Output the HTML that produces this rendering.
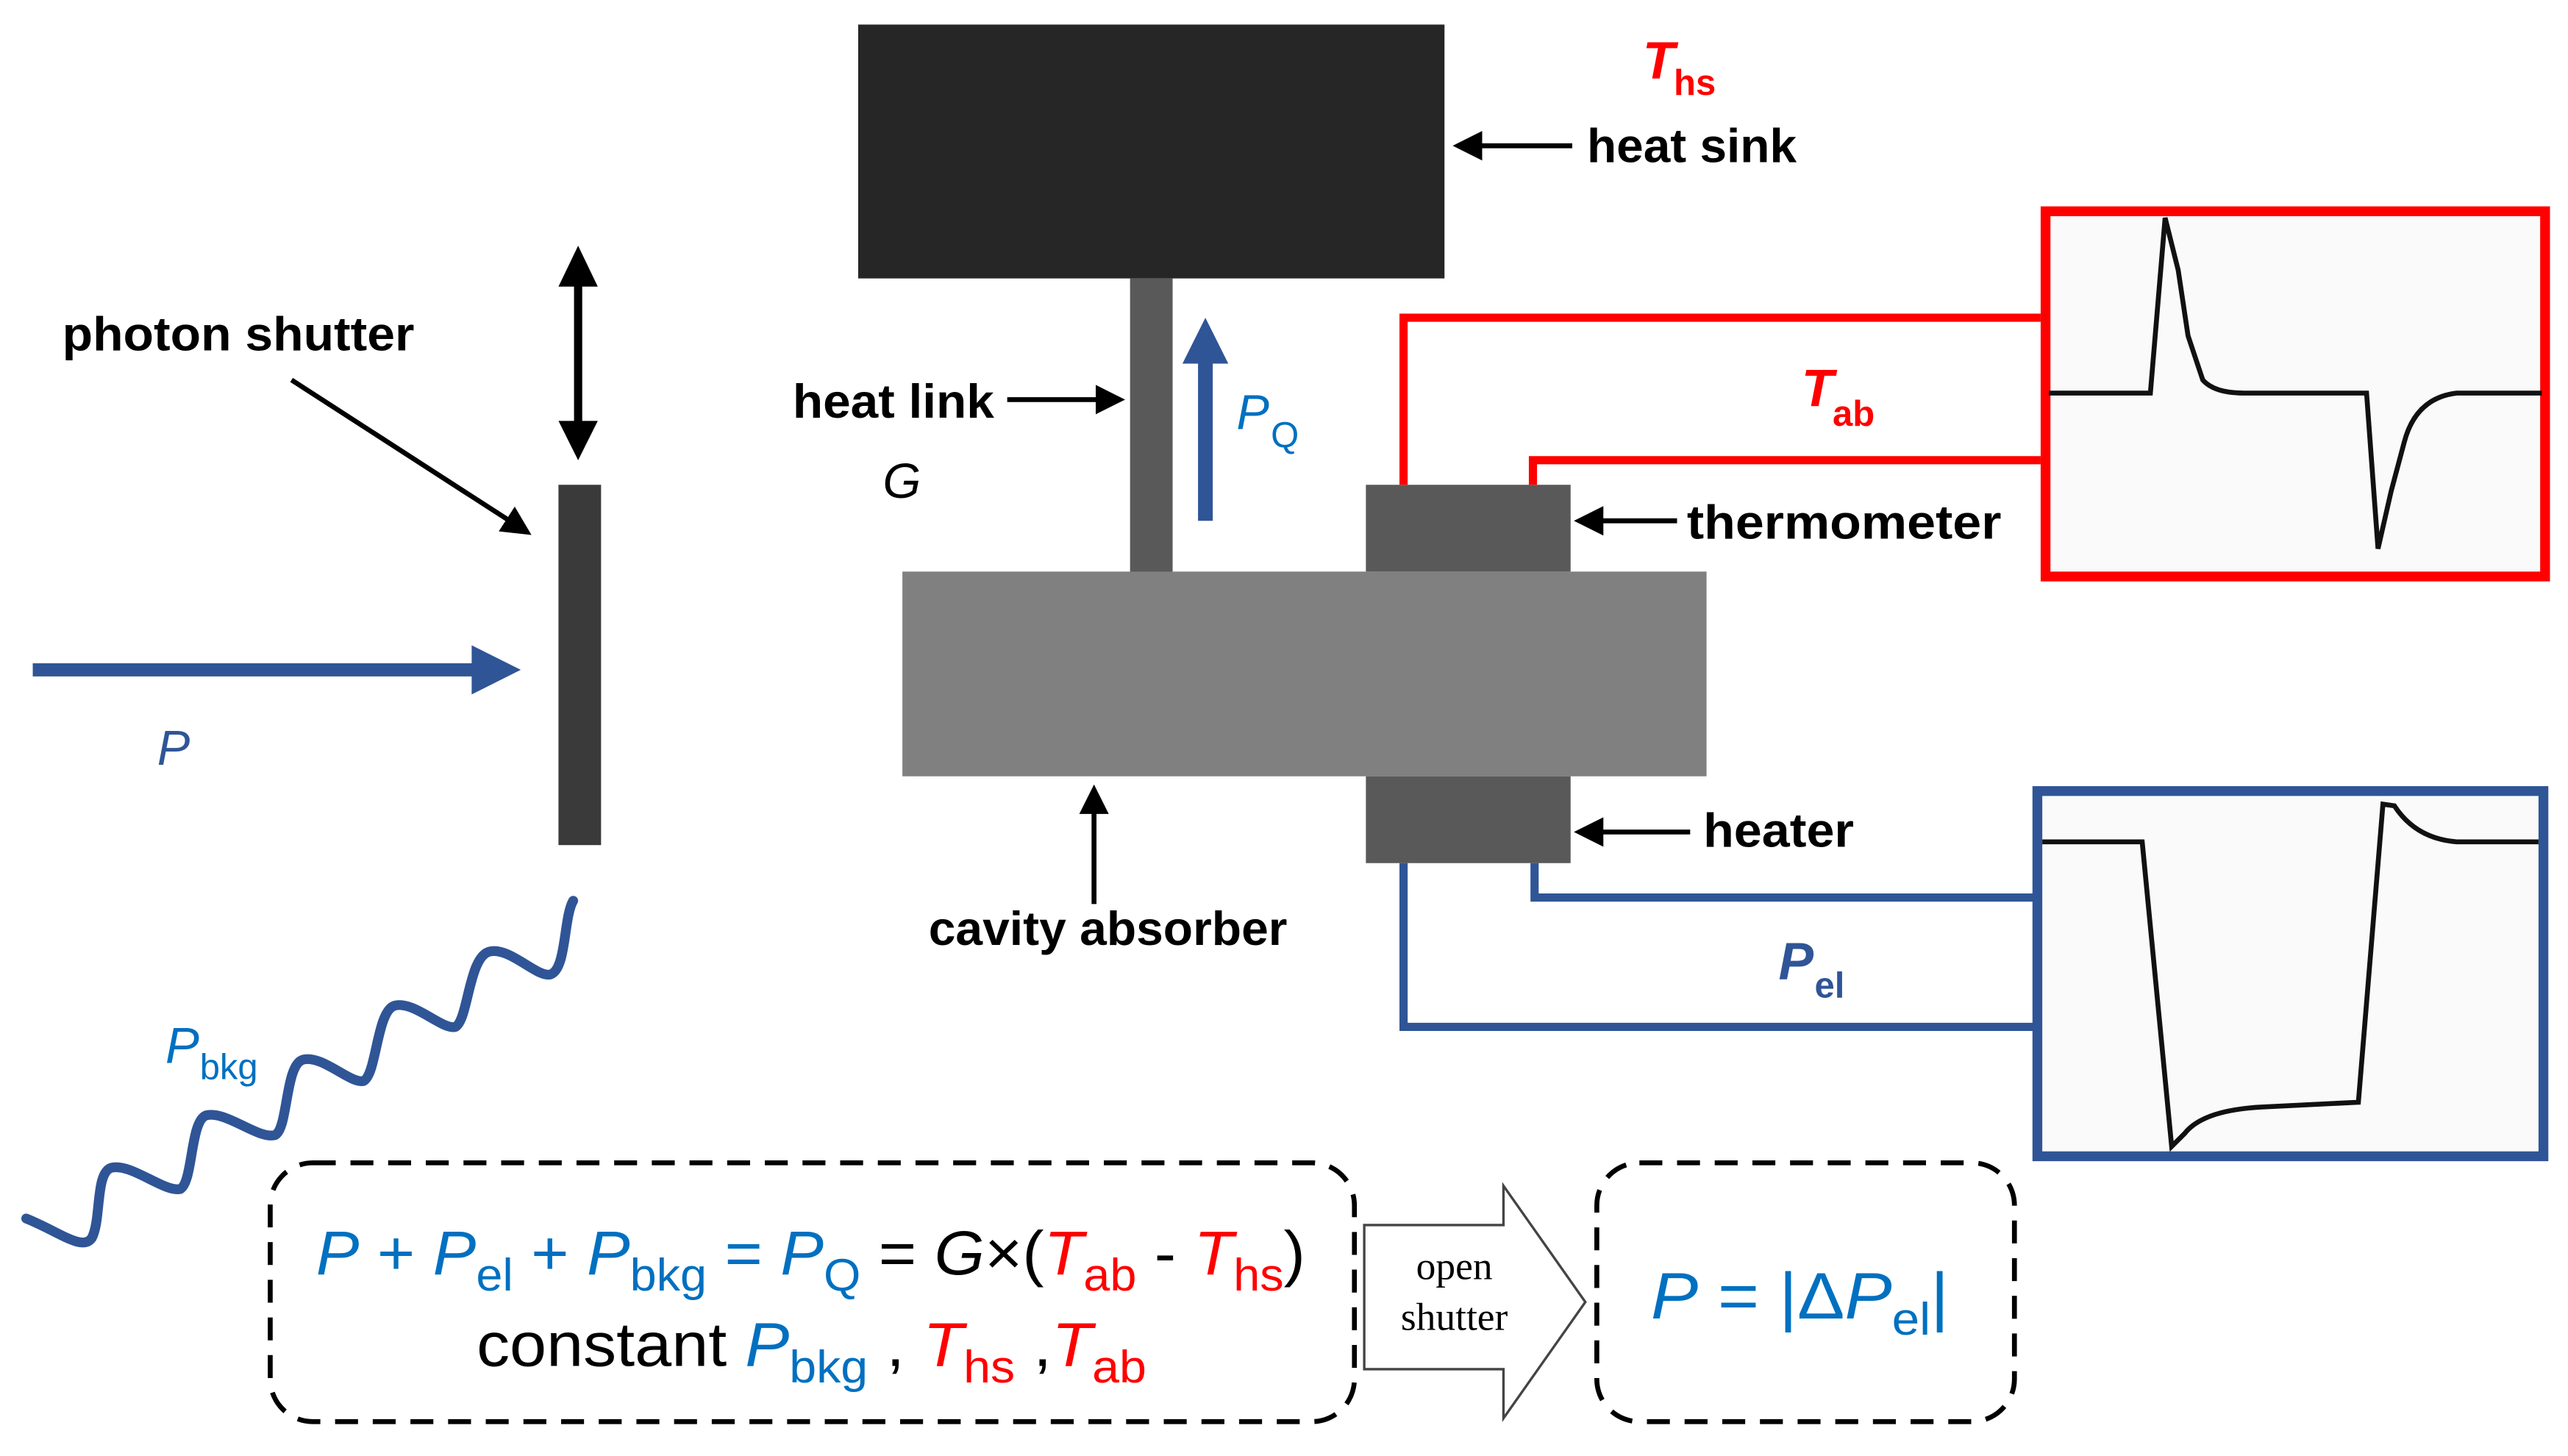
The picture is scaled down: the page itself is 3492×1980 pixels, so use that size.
<!DOCTYPE html>
<html><head><meta charset="utf-8"><style>
html,body{margin:0;padding:0;background:#fff;}
svg{display:block}
text{font-family:"Liberation Sans",sans-serif;}
.lb{font-weight:bold;font-size:29px;fill:#000;}
.it{font-style:italic;}
</style></head><body>
<svg width="3492" height="1980" viewBox="0 0 1568 889" preserveAspectRatio="none" xmlns="http://www.w3.org/2000/svg">
<defs>
<marker id="ak" markerWidth="6" markerHeight="6" refX="5" refY="3" orient="auto" markerUnits="strokeWidth"><path d="M0,0 L6,3 L0,6 z" fill="#000"/></marker>
</defs>
<rect width="1568" height="889" fill="#fff"/>
<rect x="524" y="15" width="358" height="155" fill="#262626"/>
<rect x="690" y="170" width="26" height="180" fill="#595959"/>
<rect x="551" y="349" width="491" height="125" fill="#808080"/>
<rect x="834" y="296" width="125" height="53" fill="#595959"/>
<rect x="834" y="474" width="125" height="53" fill="#595959"/>
<rect x="341" y="296" width="26" height="220" fill="#3a3a3a"/>
<line x1="353" y1="170" x2="353" y2="262" stroke="#000" stroke-width="5"/>
<path d="M341,175 L353,150 L365,175 z" fill="#000"/>
<path d="M341,257 L353,281 L365,257 z" fill="#000"/>
<text x="38" y="214" class="lb" textLength="215" lengthAdjust="spacingAndGlyphs">photon shutter</text>
<line x1="178" y1="232" x2="322" y2="325" stroke="#000" stroke-width="3" marker-end="url(#ak)"/>
<line x1="20" y1="409" x2="292" y2="409" stroke="#2F5597" stroke-width="8"/>
<path d="M288,394 L318,409 L288,424 z" fill="#2F5597"/>
<text x="96" y="467" class="it" font-size="30" fill="#2F5597">P</text>
<path d="M16,744 C36,752 50,764 56,756 C62,745 58,716 68,713 C80,710 100,728 110,726 C118,722 116,684 126,681 C138,678 158,696 168,693 C176,689 174,650 185,647 C197,644 214,662 222,660 C230,656 230,617 241,614 C253,611 270,629 278,627 C286,623 286,584 299,581 C311,578 328,597 336,595 C346,592 344,560 350,550" fill="none" stroke="#2F5597" stroke-width="6" stroke-linecap="round"/>
<text x="101" y="649" class="it" font-size="31" fill="#0070C0">P</text><text x="122" y="659" font-size="22" fill="#0070C0">bkg</text>
<line x1="736" y1="318" x2="736" y2="218" stroke="#2F5597" stroke-width="9"/>
<path d="M722,222 L736,194 L750,222 z" fill="#2F5597"/>
<text x="755" y="262" class="it" font-size="30" fill="#0070C0">P</text><text x="776" y="273" font-size="22" fill="#0070C0">Q</text>
<text x="484" y="255" class="lb" textLength="123" lengthAdjust="spacingAndGlyphs">heat link</text>
<line x1="615" y1="244" x2="684" y2="244" stroke="#000" stroke-width="3" marker-end="url(#ak)"/>
<text x="539" y="304" class="it" font-size="30" fill="#000">G</text>
<text x="1003" y="48" class="it" font-weight="bold" font-size="32" fill="#FF0000">T</text><text x="1022" y="58" font-weight="bold" font-size="22" fill="#FF0000">hs</text>
<text x="969" y="99" class="lb" textLength="128" lengthAdjust="spacingAndGlyphs">heat sink</text>
<line x1="960" y1="89" x2="890" y2="89" stroke="#000" stroke-width="3" marker-end="url(#ak)"/>
<text x="1030" y="329" class="lb" textLength="192" lengthAdjust="spacingAndGlyphs">thermometer</text>
<line x1="1024" y1="318" x2="964" y2="318" stroke="#000" stroke-width="3" marker-end="url(#ak)"/>
<text x="1040" y="517" class="lb" textLength="92" lengthAdjust="spacingAndGlyphs">heater</text>
<line x1="1032" y1="508" x2="964" y2="508" stroke="#000" stroke-width="3" marker-end="url(#ak)"/>
<text x="567" y="577" class="lb" textLength="219" lengthAdjust="spacingAndGlyphs">cavity absorber</text>
<line x1="668" y1="552" x2="668" y2="482" stroke="#000" stroke-width="3" marker-end="url(#ak)"/>
<polyline points="857,296 857,194 1246,194" fill="none" stroke="#FF0000" stroke-width="5"/>
<polyline points="936,296 936,281 1246,281" fill="none" stroke="#FF0000" stroke-width="5"/>
<text x="1100" y="248" class="it" font-weight="bold" font-size="32" fill="#FF0000">T</text><text x="1119" y="260" font-weight="bold" font-size="22" fill="#FF0000">ab</text>
<polyline points="857,527 857,627 1242,627" fill="none" stroke="#2F5597" stroke-width="5"/>
<polyline points="937,527 937,548 1242,548" fill="none" stroke="#2F5597" stroke-width="5"/>
<text x="1086" y="598" class="it" font-weight="bold" font-size="32" fill="#2F5597">P</text><text x="1108" y="609" font-weight="bold" font-size="22" fill="#2F5597">el</text>
<rect x="1249" y="129" width="305" height="223" fill="#fafafa" stroke="#FF0000" stroke-width="6"/>
<path d="M1251,240 L1313,240 L1322,133 L1330,165 L1336,205 L1345,232 Q1352,240 1370,240 L1445,240 L1452,335 L1460,300 L1468,270 Q1475,243 1500,240 L1552,240" fill="none" stroke="#111" stroke-width="3"/>
<rect x="1244" y="483" width="309" height="223" fill="#fafafa" stroke="#2F5597" stroke-width="6"/>
<path d="M1247,514 L1308,514 L1326,700 L1334,692 Q1345,678 1380,676 L1440,673 L1455,491 L1462,492 Q1475,512 1500,514 L1550,514" fill="none" stroke="#111" stroke-width="3"/>
<rect x="165" y="710" width="662" height="158" rx="26" fill="none" stroke="#000" stroke-width="3" stroke-dasharray="14,9"/>
<rect x="975" y="710" width="255" height="158" rx="26" fill="none" stroke="#000" stroke-width="3" stroke-dasharray="14,9"/>
<path d="M833,748 L918,748 L918,724 L968,795 L918,866 L918,836 L833,836 z" fill="#fff" stroke="#444" stroke-width="1.5"/>
<text x="888" y="781" text-anchor="middle" font-size="24" fill="#000" style="font-family:'Liberation Serif',serif">open</text>
<text x="888" y="812" text-anchor="middle" font-size="24" fill="#000" style="font-family:'Liberation Serif',serif">shutter</text>
<text x="193" y="778" font-size="38" fill="#0070C0" textLength="604" lengthAdjust="spacingAndGlyphs"><tspan font-style="italic">P</tspan> + <tspan font-style="italic">P</tspan><tspan font-size="28" dy="10">el</tspan><tspan dy="-10"> + </tspan><tspan font-style="italic">P</tspan><tspan font-size="28" dy="10">bkg</tspan><tspan dy="-10"> = </tspan><tspan font-style="italic">P</tspan><tspan font-size="28" dy="10">Q</tspan><tspan dy="-10" fill="#000"> = </tspan><tspan fill="#000" font-style="italic">G</tspan><tspan fill="#000">×(</tspan><tspan fill="#FF0000" font-style="italic">T</tspan><tspan fill="#FF0000" font-size="28" dy="10">ab</tspan><tspan fill="#000" dy="-10"> - </tspan><tspan fill="#FF0000" font-style="italic">T</tspan><tspan fill="#FF0000" font-size="28" dy="10">hs</tspan><tspan fill="#000" dy="-10">)</tspan></text>
<text x="291" y="834" font-size="38" fill="#000" textLength="409" lengthAdjust="spacingAndGlyphs">constant <tspan fill="#0070C0" font-style="italic">P</tspan><tspan fill="#0070C0" font-size="28" dy="10">bkg</tspan><tspan dy="-10"> , </tspan><tspan fill="#FF0000" font-style="italic">T</tspan><tspan fill="#FF0000" font-size="28" dy="10">hs</tspan><tspan dy="-10"> ,</tspan><tspan fill="#FF0000" font-style="italic">T</tspan><tspan fill="#FF0000" font-size="28" dy="10">ab</tspan></text>
<text x="1008" y="805" font-size="40" fill="#0070C0" textLength="182" lengthAdjust="spacingAndGlyphs"><tspan font-style="italic">P</tspan> = |Δ<tspan font-style="italic">P</tspan><tspan font-size="28" dy="10">el</tspan><tspan dy="-10">|</tspan></text>
</svg>
</body></html>
